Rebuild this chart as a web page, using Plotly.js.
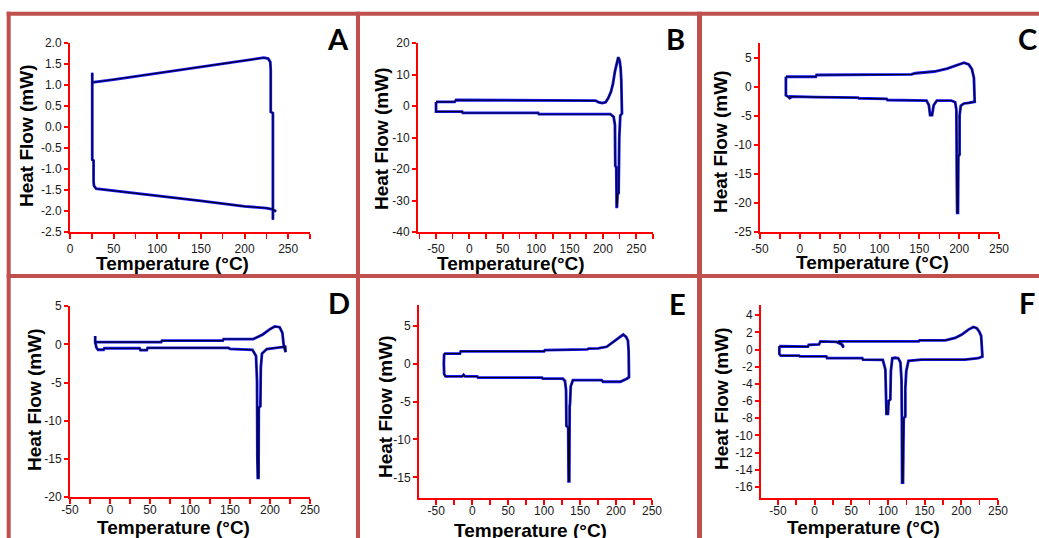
<!DOCTYPE html>
<html>
<head>
<meta charset="utf-8">
<script src="https://cdn.plot.ly/plotly-3.0.1.min.js"></script>
<style>
html,body{margin:0;padding:0;background:#fff;}
#chart{width:1039px;height:538px;}
</style>
</head>
<body>
<div id="chart"></div>
<script>
// ---------- DATA ----------
const panelLetters = ["A", "B", "C", "D", "E", "F"];
const xTitleText = ["Temperature (°C)", "Temperature(°C)", "Temperature (°C)", "Temperature (°C)", "Temperature (°C)", "Temperature (°C)"];
const yTitleText = "Heat Flow (mW)";

// Panel A
const tempA = [236.2, 232, 225, 200, 150, 100, 50, 30, 27.5, 27, 27, 25.5, 25.5, 25.5, 50, 100, 150, 200, 222, 227, 229.5, 230, 230, 232.5, 232.5];
const heatA = [-2.01, -1.96, -1.93, -1.89, -1.76, -1.64, -1.51, -1.47, -1.40, -1.30, -0.80, -0.78, 1.29, 1.06, 1.13, 1.28, 1.43, 1.58, 1.65, 1.63, 1.55, 1.35, 0.36, 0.33, -2.21];

// Panel B
const tempB = [-50, -22, -20, 0, 50, 100, 150, 189, 193, 199, 204, 208, 212, 215, 218, 221, 223, 225, 226.5, 227.5, 228, 228.5, 226, 224.5, 223.5, 222, 221, 220.5, 220, 218.5, 218, 216, 211, 150, 104, 103, -10, -11, -50, -50];
const heatB = [1.3, 1.3, 1.9, 1.9, 1.9, 1.9, 1.9, 1.7, 1.2, 0.9, 1.2, 2.5, 4.5, 7, 11, 14.5, 15.5, 14.5, 12, 8, 3, -2.4, -3, -10, -27.7, -28, -32, -32, -19.5, -19, -6, -3.4, -2.6, -2.6, -2.6, -2.2, -2.2, -1.8, -1.8, 1.3];

// Panel C
const tempC = [-17.5, 20, 21, 140, 145, 169, 185, 198, 206, 212, 216, 218.5, 219.5, 212, 206, 202, 200.5, 200.5, 199, 198.5, 197.5, 197, 196.5, 195, 190, 172, 168, 166, 163.5, 162, 159, 110, 109, 74, 73, 20, -12, -12, -14, -17.5, -17.5];
const heatC = [1.7, 1.7, 2.0, 2.1, 2.3, 2.6, 3.1, 3.7, 4.1, 3.8, 3.0, 1.5, -2.6, -2.8, -2.9, -3.3, -5, -11.7, -12, -21.7, -21.7, -15, -4, -2.7, -2.4, -2.4, -3.2, -4.9, -4.9, -3.2, -2.4, -2.3, -2.1, -2.0, -1.9, -1.8, -1.7, -2.1, -1.8, -1.5, 1.7];

// Panel D
const tempD = [-18.5, -18.5, 64, 65, 141, 142, 179, 191, 200, 206, 212, 215.5, 217, 217.5, 219.5, 219, 210, 196, 190, 188.5, 188, 186, 185.7, 184.7, 184.2, 183.8, 182.5, 178, 150, 148, 47, 46, 38, 37, -7, -8, -15, -17, -18.5];
const heatD = [1.1, 0.3, 0.3, 0.5, 0.5, 0.7, 0.7, 1.3, 2.0, 2.35, 2.25, 1.5, 0, -0.3, -1.0, -0.3, -0.45, -0.6, -1.2, -3, -8.1, -8.3, -17.5, -17.5, -15, -4.8, -1.5, -0.7, -0.6, -0.45, -0.45, -0.75, -0.75, -0.5, -0.5, -0.7, -0.7, -0.4, 0.3];

// Panel E
const tempE = [-39, -17, -16, 4, 100, 101, 160, 162, 175, 187, 199, 206, 210, 214, 216.5, 217.5, 218, 215, 206, 182, 180, 140, 137, 136, 135.5, 135, 134, 133.5, 131, 130.5, 129, 126, 98, 97, 8, 7, -10, -12, -14, -37, -39, -39.5, -39];
const heatE = [1.3, 1.3, 1.6, 1.6, 1.6, 1.75, 1.85, 1.97, 2.0, 2.2, 3.0, 3.5, 3.8, 3.5, 3.0, 1.7, -1.8, -2.0, -2.4, -2.4, -2.2, -2.2, -3.0, -5.3, -5.6, -15.5, -15.5, -8.4, -8.2, -3.5, -2.3, -2.0, -2.0, -1.85, -1.85, -1.7, -1.7, -1.5, -1.7, -1.7, -1.4, 0, 1.3];

// Panel F
const tempF = [-48, -9, -8, 6, 8, 30, 37, 39.5, 38, 32, 142, 143, 178, 191.6, 200.7, 209.7, 216.5, 221, 224.5, 227, 228.5, 228.8, 223, 214, 205, 146, 128, 125, 123.7, 123.7, 121.5, 120.5, 119.3, 119, 118.5, 117, 114, 110, 106, 104, 103.3, 101, 100, 98, 97.5, 96.5, 93, 66, 65, 17, 16, -20, -21, -46, -48, -48];
const heatF = [0.39, 0.35, 0.55, 0.6, 0.95, 0.9, 0.6, 0.25, 0.55, 0.95, 0.97, 1.08, 1.08, 1.36, 1.75, 2.33, 2.64, 2.5, 2.1, 1.6, 0, -0.8, -1.0, -1.1, -1.17, -1.17, -1.3, -2.5, -4.5, -7.8, -8, -15.5, -15.5, -8, -3.5, -1.5, -1.0, -0.95, -1.0, -2.5, -5.8, -6.0, -7.5, -7.5, -4, -2.3, -1.2, -1.17, -1.0, -1.0, -0.8, -0.8, -0.7, -0.7, -0.5, 0.39];

// Tick values
const xTicksA = [0, 50, 100, 150, 200, 250];
const xTicksBF = [-50, 0, 50, 100, 150, 200, 250];
const yTicksA = [2.0, 1.5, 1.0, 0.5, 0.0, -0.5, -1.0, -1.5, -2.0, -2.5];
const yTicksB = [20, 10, 0, -10, -20, -30, -40];
const yTicksC = [5, 0, -5, -10, -15, -20, -25];
const yTicksD = [5, 0, -5, -10, -15, -20];
const yTicksE = [5, 0, -5, -10, -15];
const yTicksF = [4, 2, 0, -2, -4, -6, -8, -10, -12, -14, -16];

// ---------- LAYOUT / STYLE ----------
const W = 1039, H = 538;
const panels = [
  {t: tempA, q: heatA, xt: xTicksA, yt: yTicksA, ydec: 1, xpx: [70, 310], ypx: [43, 232], xr: [0, 275], yr: [-2.5, 2.0], so: 0,
   xTitle: [172, 263], yTitle: [27, 136], letter: [338, 38]},
  {t: tempB, q: heatB, xt: xTicksBF, yt: yTicksB, ydec: 0, xpx: [418, 653], ypx: [43, 232], xr: [-77, 275], yr: [-40, 20], so: 0,
   xTitle: [511, 263], yTitle: [381, 139], letter: [675, 39]},
  {t: tempC, q: heatC, xt: xTicksBF, yt: yTicksC, ydec: 0, xpx: [760, 999], ypx: [43, 232], xr: [-50, 250], yr: [-25, 7.5], so: 0,
   xTitle: [872, 262], yTitle: [720, 142], letter: [1027, 38]},
  {t: tempD, q: heatD, xt: xTicksBF, yt: yTicksD, ydec: 0, xpx: [70, 310], ypx: [305.5, 497], xr: [-50, 250], yr: [-20, 5.1], so: -4,
   xTitle: [173, 527], yTitle: [34, 400], letter: [339, 302]},
  {t: tempE, q: heatE, xt: xTicksBF, yt: yTicksE, ydec: 0, xpx: [419, 652], ypx: [305, 498], xr: [-74, 250], yr: [-17.7, 7.7], so: -4,
   xTitle: [530, 530], yTitle: [385, 407], letter: [677, 303]},
  {t: tempF, q: heatF, xt: xTicksBF, yt: yTicksF, ydec: 0, xpx: [761, 998], ypx: [305, 498], xr: [-73, 250], yr: [-17.3, 5.2], so: -4,
   xTitle: [863, 527], yTitle: [721, 399], letter: [1027, 302]}
];

const RED = '#ff0000';
const FRAME = '#c0504d';
const tickFont = {family: '"Liberation Sans", Arial, sans-serif', size: 12, color: '#1a1a1a'};
const titleFont = {family: '"Liberation Sans", Arial, sans-serif', size: 19, color: '#000', weight: 'bold'};
const letterFont = {family: 'Lato, "Open Sans", sans-serif', size: 29, color: '#000', weight: 'bold'};

const data = [];
const layout = {
  width: W, height: H,
  margin: {l: 0, r: 0, t: 0, b: 0, pad: 0},
  paper_bgcolor: '#ffffff', plot_bgcolor: 'rgba(0,0,0,0)',
  showlegend: false, hovermode: false,
  annotations: [], shapes: []
};

panels.forEach((p, i) => {
  const n = i === 0 ? '' : String(i + 1);
  const xa = 'x' + n, ya = 'y' + n;
  data.push({x: p.t, y: p.q, xaxis: xa, yaxis: ya, type: 'scatter', mode: 'lines',
             line: {color: '#1515ff', width: 2.8}, hoverinfo: 'skip'});
  data.push({x: p.t, y: p.q, xaxis: xa, yaxis: ya, type: 'scatter', mode: 'lines',
             line: {color: '#000018', width: 1.1}, hoverinfo: 'skip'});
  layout['xaxis' + n] = {
    domain: [p.xpx[0] / W, p.xpx[1] / W], anchor: ya, range: p.xr, autorange: false,
    showline: true, linecolor: RED, linewidth: 2, showgrid: false, zeroline: false,
    ticks: 'outside', ticklen: 5, tickwidth: 2, tickcolor: RED,
    tickmode: 'array', tickvals: p.xt, ticktext: p.xt.map(v => String(v)),
    tickfont: tickFont, ticklabelstandoff: p.so,
    minor: {ticks: 'outside', ticklen: 5, tickwidth: 1.5, tickcolor: RED, tickmode: 'linear', tick0: 25, dtick: 50, showgrid: false}
  };
  layout['yaxis' + n] = {
    domain: [1 - p.ypx[1] / H, 1 - p.ypx[0] / H], anchor: xa, range: p.yr, autorange: false,
    showline: true, linecolor: RED, linewidth: 2, showgrid: false, zeroline: false,
    ticks: 'outside', ticklen: 4, tickwidth: 2, tickcolor: RED,
    tickmode: 'array', tickvals: p.yt, ticktext: p.yt.map(v => p.ydec ? v.toFixed(p.ydec) : String(v)),
    tickfont: tickFont
  };
  layout.annotations.push({xref: 'paper', yref: 'paper', x: p.xTitle[0] / W, y: 1 - p.xTitle[1] / H,
    xanchor: 'center', yanchor: 'middle', showarrow: false, text: xTitleText[i], font: titleFont});
  layout.annotations.push({xref: 'paper', yref: 'paper', x: p.yTitle[0] / W, y: 1 - p.yTitle[1] / H,
    xanchor: 'center', yanchor: 'middle', showarrow: false, text: yTitleText, textangle: -90, font: titleFont});
  layout.annotations.push({xref: 'paper', yref: 'paper', x: p.letter[0] / W, y: 1 - p.letter[1] / H,
    xanchor: 'center', yanchor: 'middle', showarrow: false, text: panelLetters[i], font: letterFont});
});

// frame lines between panels
function hline(y, x0, x1, w) { layout.shapes.push({type: 'line', xref: 'paper', yref: 'paper', x0: x0 / W, x1: x1 / W, y0: 1 - y / H, y1: 1 - y / H, line: {color: FRAME, width: w}}); }
function vline(x, y0, y1, w) { layout.shapes.push({type: 'line', xref: 'paper', yref: 'paper', x0: x / W, x1: x / W, y0: 1 - y0 / H, y1: 1 - y1 / H, line: {color: FRAME, width: w}}); }
hline(13.7, 6.7, 1039, 4);
hline(276, 6.7, 1039, 4);
vline(8.7, 11.7, 538, 4);
vline(358, 11.7, 538, 4);
vline(699.5, 11.7, 538, 5);

Plotly.newPlot('chart', data, layout, {staticPlot: true, displayModeBar: false});
</script>
</body>
</html>
